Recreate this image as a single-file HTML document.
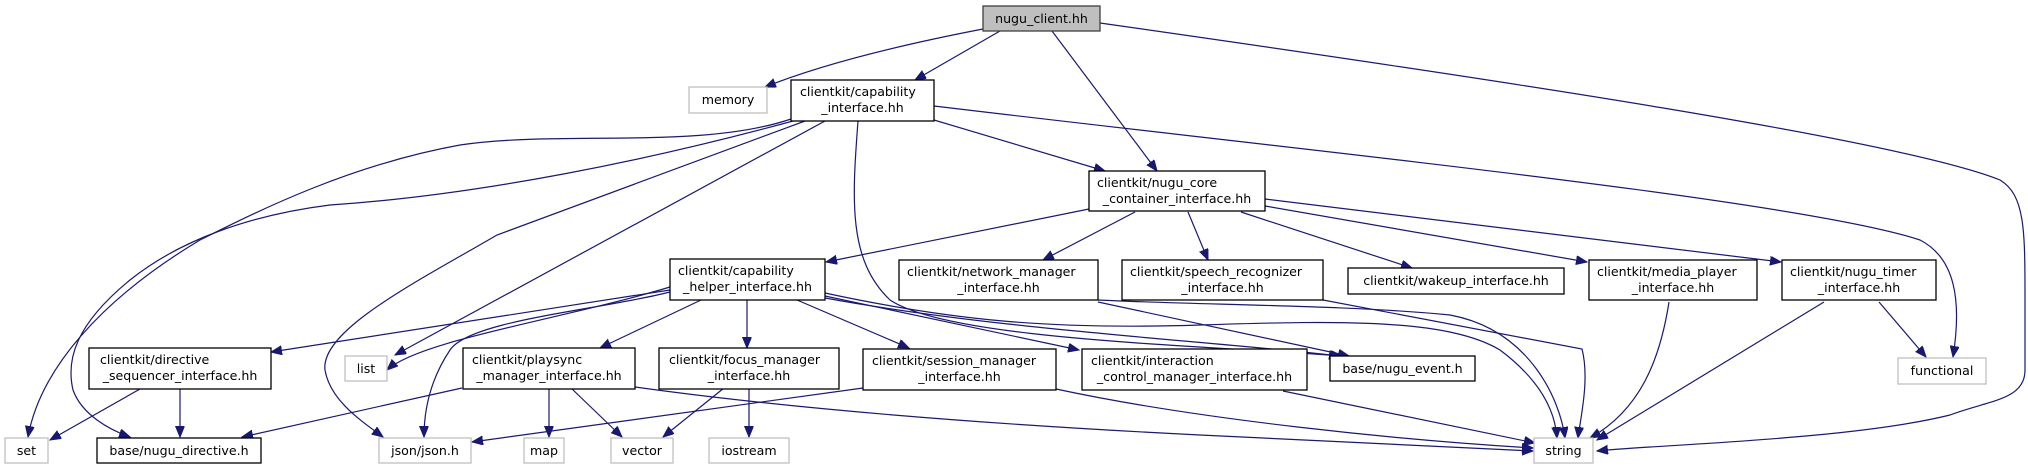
<!DOCTYPE html>
<html><head><meta charset="utf-8"><style>
html,body{margin:0;padding:0;background:#fff;width:2028px;height:469px;overflow:hidden}
svg text{font-family:"DejaVu Sans","Liberation Sans",sans-serif;font-size:12.6px;fill:#000}
.e{fill:none;stroke:#191970;stroke-width:1.2}
.b{fill:#fff;stroke:#000;stroke-width:1.3}
.g{fill:#fff;stroke:#bfbfbf;stroke-width:1.3}
</style></head><body>
<svg width="2028" height="469" viewBox="0 0 2028 469" xmlns="http://www.w3.org/2000/svg">
<defs><marker id="a" markerUnits="userSpaceOnUse" markerWidth="12" markerHeight="10" refX="11" refY="4.5" orient="auto"><path d="M0,0 L11,4.5 L0,9 Z" fill="#191970" stroke="#191970"/></marker></defs>
<g class="e" marker-end="url(#a)">
<path d="M983,29 C900,45 820,65 765,87"/>
<path d="M1000,31 L915,80"/>
<path d="M1052,31 L1157,171"/>
<path d="M1100,23 C1500,80 1900,140 2000,180 C2025,195 2025,230 2025,300 L2025,370 C2025,400 1990,400 1950,415 C1850,440 1650,445 1597,451"/>
<path d="M934,120 L1105,171"/>
<path d="M934,106 C1300,150 1800,200 1920,240 C1955,258 1962,300 1953,357"/>
<path d="M791,119 C700,150 560,130 460,145 C350,165 260,210 200,240 C100,300 40,370 28,437"/>
<path d="M793,121 C650,160 480,195 330,205 C250,215 180,240 130,280 C75,325 66,360 73,390 C82,415 110,430 130,437"/>
<path d="M805,121 L497,235 C420,280 320,330 325,370 C330,400 360,420 383,437"/>
<path d="M825,121 L395,355"/>
<path d="M858,121 C852,200 848,260 890,300 C950,340 1200,345 1342,356"/>
<path d="M1089,209 L826,262"/>
<path d="M1135,212 L1043,260"/>
<path d="M1188,212 L1208,260"/>
<path d="M1241,212 L1412,268"/>
<path d="M1265,206 L1587,262"/>
<path d="M1265,199 L1781,262"/>
<path d="M670,290 L271,352"/>
<path d="M670,287 C560,320 420,340 387,370"/>
<path d="M670,292 C600,310 470,320 450,350 C430,380 424,410 424,437"/>
<path d="M701,300 L600,348"/>
<path d="M747,300 L747,348"/>
<path d="M797,300 L909,348"/>
<path d="M825,296 L1079,350"/>
<path d="M825,298 C1000,330 1200,340 1340,356"/>
<path d="M825,293 C950,320 1050,330 1200,325 C1350,320 1450,320 1500,350 C1540,380 1555,410 1557,438"/>
<path d="M1098,302 L1349,356"/>
<path d="M1098,300 C1200,305 1350,305 1450,315 C1530,330 1560,400 1565,438"/>
<path d="M1323,300 L1582,349 C1590,380 1580,420 1578,438"/>
<path d="M1669,302 C1660,360 1640,410 1590,438"/>
<path d="M1824,302 L1597,440"/>
<path d="M1879,302 L1926,357"/>
<path d="M140,389 L50,440"/>
<path d="M180,389 L180,437"/>
<path d="M462,388 L242,437"/>
<path d="M549,389 L549,437"/>
<path d="M571,388 L622,437"/>
<path d="M635,387 C800,410 1000,425 1200,435 C1400,445 1500,450 1533,451"/>
<path d="M724,388 L663,437"/>
<path d="M749,389 L749,437"/>
<path d="M863,388 L472,442"/>
<path d="M1056,389 C1200,420 1400,440 1533,448"/>
<path d="M1283,391 L1535,443"/>
</g>
<rect x="983" y="6" width="117" height="25" fill="#bfbfbf" stroke="#404040" stroke-width="1.3"/>
<text x="1041.5" y="23" text-anchor="middle">nugu_client.hh</text>
<rect class="g" x="689" y="87" width="78" height="26"/><text x="728" y="104" text-anchor="middle">memory</text>
<rect class="b" x="791" y="80" width="143" height="41"/><text x="800" y="96">clientkit/capability</text><text x="862.5" y="112" text-anchor="middle">_interface.hh</text>
<rect class="b" x="1089" y="171" width="176" height="40"/><text x="1097" y="187">clientkit/nugu_core</text><text x="1177" y="203" text-anchor="middle">_container_interface.hh</text>
<rect class="b" x="670" y="259" width="155" height="41"/><text x="678" y="275">clientkit/capability</text><text x="747.5" y="291" text-anchor="middle">_helper_interface.hh</text>
<rect class="b" x="899" y="260" width="199" height="40"/><text x="907" y="276">clientkit/network_manager</text><text x="998.5" y="292" text-anchor="middle">_interface.hh</text>
<rect class="b" x="1122" y="260" width="201" height="40"/><text x="1130" y="276">clientkit/speech_recognizer</text><text x="1222.5" y="292" text-anchor="middle">_interface.hh</text>
<rect class="b" x="1348" y="268" width="216" height="26"/><text x="1456" y="285" text-anchor="middle">clientkit/wakeup_interface.hh</text>
<rect class="b" x="1589" y="260" width="168" height="40"/><text x="1597" y="276">clientkit/media_player</text><text x="1673" y="292" text-anchor="middle">_interface.hh</text>
<rect class="b" x="1782" y="260" width="154" height="40"/><text x="1790" y="276">clientkit/nugu_timer</text><text x="1859" y="292" text-anchor="middle">_interface.hh</text>
<rect class="b" x="89" y="348" width="182" height="41"/><text x="100" y="364">clientkit/directive</text><text x="180" y="380" text-anchor="middle">_sequencer_interface.hh</text>
<rect class="g" x="345" y="356" width="42" height="25"/><text x="366" y="373" text-anchor="middle">list</text>
<rect class="b" x="463" y="348" width="172" height="41"/><text x="472" y="364">clientkit/playsync</text><text x="549" y="380" text-anchor="middle">_manager_interface.hh</text>
<rect class="b" x="659" y="348" width="180" height="41"/><text x="669" y="364">clientkit/focus_manager</text><text x="749" y="380" text-anchor="middle">_interface.hh</text>
<rect class="b" x="863" y="349" width="193" height="41"/><text x="872" y="365">clientkit/session_manager</text><text x="959.5" y="381" text-anchor="middle">_interface.hh</text>
<rect class="b" x="1082" y="349" width="225" height="41"/><text x="1091" y="365">clientkit/interaction</text><text x="1194.5" y="381" text-anchor="middle">_control_manager_interface.hh</text>
<rect class="b" x="1330" y="356" width="145" height="25"/><text x="1402.5" y="373" text-anchor="middle">base/nugu_event.h</text>
<rect class="g" x="1898" y="358" width="88" height="26"/><text x="1942" y="375" text-anchor="middle">functional</text>
<rect class="g" x="5" y="438" width="43" height="25"/><text x="26.5" y="455" text-anchor="middle">set</text>
<rect class="b" x="97" y="438" width="164" height="25"/><text x="179" y="455" text-anchor="middle">base/nugu_directive.h</text>
<rect class="g" x="379" y="438" width="92" height="25"/><text x="425" y="455" text-anchor="middle">json/json.h</text>
<rect class="g" x="524" y="438" width="40" height="25"/><text x="544" y="455" text-anchor="middle">map</text>
<rect class="g" x="611" y="438" width="62" height="25"/><text x="642" y="455" text-anchor="middle">vector</text>
<rect class="g" x="709" y="438" width="80" height="25"/><text x="749" y="455" text-anchor="middle">iostream</text>
<rect class="g" x="1534" y="438" width="59" height="25"/><text x="1563.5" y="455" text-anchor="middle">string</text>
</svg>
</body></html>
